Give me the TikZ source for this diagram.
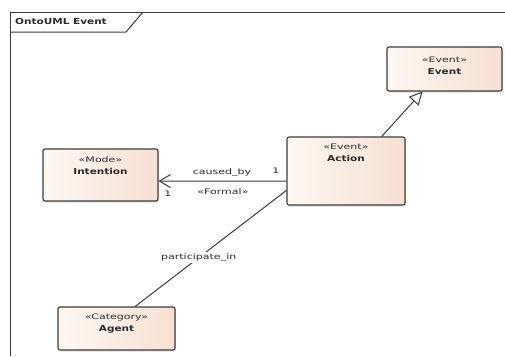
\documentclass[tikz,border=0pt]{standalone}
\usepackage{fontspec}
\usetikzlibrary{arrows.meta,shadows,calc}
\newfontfamily\rgf[FakeStretch=1.45]{DejaVu Sans}
\newfontfamily\bdf[FakeStretch=1.28]{DejaVu Sans Bold}
\definecolor{boxA}{HTML}{FDF7F2}
\definecolor{boxB}{HTML}{F6E0D2}
\definecolor{ln}{HTML}{3C3C3C}
\definecolor{tx}{HTML}{2A2A2A}
\newcommand{\st}{\rgf\fontsize{7.6}{12.5}\selectfont}
\newcommand{\nm}{\bdf\fontsize{8.2}{12.5}\selectfont}
\tikzset{
  umlbox/.style={draw=ln, line width=1.1pt, rounded corners=2pt,
    left color=boxA, right color=boxB,
    drop shadow={shadow xshift=1.2pt, shadow yshift=-1.5pt, opacity=0.25},
    inner sep=0pt},
  boxtext/.style={anchor=north, align=center, text=tx, inner sep=0pt},
  conn/.style={draw=ln, line width=1pt},
  lbl/.style={text=tx, inner sep=1pt, font=\st},
}
\begin{document}
\begin{tikzpicture}[x=1pt,y=-1pt]
\useasboundingbox (0,0) rectangle (505,356);
\fill[white] (0,0) rectangle (505,356);
% frame
\draw[ln, line width=1pt] (10,356) -- (10,12) -- (505,12);
\draw[ln, line width=1pt] (10,32) -- (126,32) -- (143,12);
\node[anchor=west, text=tx, inner sep=0pt, font=\nm] (title) at (15,22) {OntoUML Event};
% boxes
\node[umlbox, minimum width=115pt, minimum height=44pt] (event) at (444.5,69) {};
\node[boxtext] (eventt) at (444.5,57) {\st «Event»\\\nm Event};
\node[umlbox, minimum width=115pt, minimum height=52pt] (intention) at (100.5,175) {};
\node[boxtext] (intentiont) at (100.5,157) {\st «Mode»\\\nm Intention};
\node[umlbox, minimum width=118pt, minimum height=68pt] (action) at (346,171) {};
\node[boxtext] (actiont) at (346,144) {\st «Event»\\\nm Action};
\node[umlbox, minimum width=117pt, minimum height=43pt] (agent) at (116.5,328.5) {};
\node[boxtext] (agentt) at (116.5,314) {\st «Category»\\\nm Agent};
% generalization
\draw[conn, -{Triangle[open, length=13pt, width=13pt, fill=white]}]
  ($(action.north west)!0.8!(action.north east)$) --
  ($(event.south west)!0.31!(event.south east)$);
% caused_by
\draw[conn, -{Straight Barb[length=11pt, width=13pt, line width=1pt]}]
  ($(action.north west)!0.647!(action.south west)$) --
  ($(intention.north east)!0.615!(intention.south east)$);
\node[lbl] (cb) at (222,173) {caused\_by};
\node[lbl] (m1) at (276,171) {1};
\node[lbl] (fm) at (223,192) {«Formal»};
\node[lbl] (m2) at (168,194) {1};
% participate_in
\draw[conn] ($(action.north west)!0.78!(action.south west)$) --
  node[pos=0.58, fill=white, lbl, inner sep=2pt] (pi) {participate\_in}
  ($(agent.north west)!0.658!(agent.north east)$);
\end{tikzpicture}
\end{document}
